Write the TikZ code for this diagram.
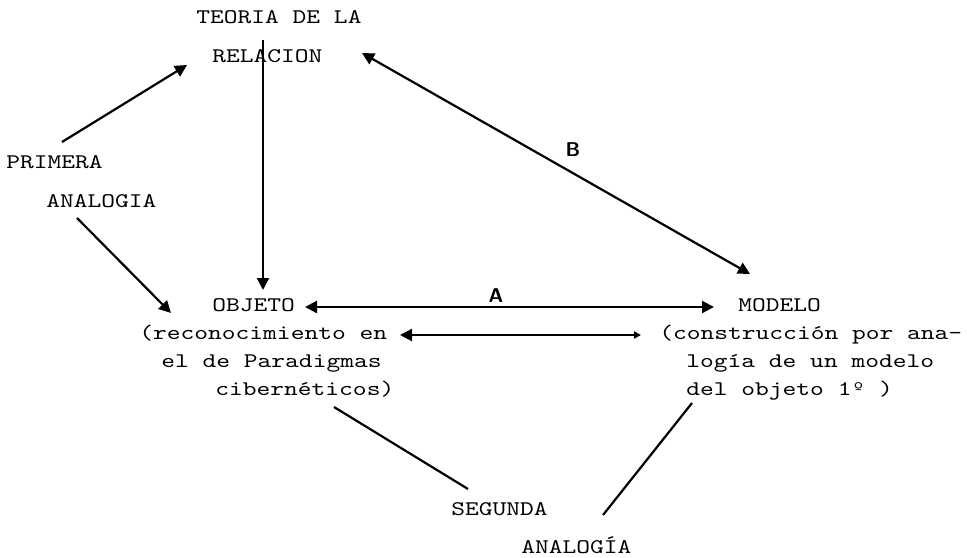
\documentclass[tikz,border=0pt]{standalone}
\usepackage{graphicx}
\usetikzlibrary{arrows.meta}
\newcommand{\tw}[1]{\scalebox{1.26}[1]{#1}}
\tikzset{
  tt/.style={anchor=base west, inner sep=0pt, font=\fontsize{10.4}{11}\selectfont\ttfamily},
  hand/.style={anchor=center, inner sep=0pt, font=\fontsize{10}{11}\selectfont\sffamily\bfseries},
  ln/.style={line width=1.1pt, black},
  arr/.style={ln, -{Triangle[length=6pt,width=6pt]}},
  darr/.style={ln, {Triangle[length=6pt,width=6pt]}-{Triangle[length=6pt,width=6pt]}},
  sarr/.style={ln, {Triangle[length=6pt,width=6pt]}-{Triangle[length=3.5pt,width=3.5pt]}}
}
\begin{document}
\begin{tikzpicture}[x=0.5pt,y=-0.5pt]
\useasboundingbox (0,0) rectangle (967,557);
% texts
\node[tt] (teoria) at (196,23) {\tw{TEORIA DE LA}};
\node[tt] (relacion) at (212,62) {\tw{RELACION}};
\node[tt] (primera) at (6,168) {\tw{PRIMERA}};
\node[tt] (analogiaA) at (46,207) {\tw{ANALOGIA}};
\node[tt] (objeto) at (212,311) {\tw{OBJETO}};
\node[tt] (objB) at (139,339) {\tw{(reconocimiento en}};
\node[tt] (objC) at (161,367) {\tw{el de Paradigmas}};
\node[tt] (objD) at (215,395) {\tw{cibernéticos)}};
\node[tt] (modelo) at (738,311) {\tw{MODELO}};
\node[tt] (modB) at (659,339) {\tw{(construcción por ana-}};
\node[tt] (modC) at (686,367) {\tw{logía de un modelo}};
\node[tt] (modD) at (686,395) {\tw{del objeto 1º )}};
\node[tt] (segunda) at (451,515) {\tw{SEGUNDA}};
\node[tt] (analogiaB) at (521,553) {\tw{ANALOGÍA}};
\node[hand] (labA) at (496,296) {A};
\node[hand] (labB) at (573,150) {B};
% connector end points
\coordinate (pA) at (62,142);
\coordinate (pB) at (187,65);
\coordinate (aA) at (77,218);
\coordinate (aB) at (171,313);
\coordinate (tA) at (263,40);
\coordinate (tB) at (263,290);
\coordinate (bA) at (362,53);
\coordinate (bB) at (750,274);
\coordinate (oA) at (305,307);
\coordinate (mA) at (714,307);
\coordinate (oB) at (400,335);
\coordinate (mB) at (641,335);
\coordinate (cA) at (334,407);
\coordinate (sA) at (468,489);
\coordinate (dA) at (692,403);
\coordinate (sB) at (603,515);
% connectors
\draw[arr] (pA) -- (pB);
\draw[arr] (aA) -- (aB);
\draw[arr] (tA) -- (tB);
\draw[darr] (bA) -- (bB);
\draw[darr] (oA) -- (mA);
\draw[sarr] (oB) -- (mB);
\draw[ln] (cA) -- (sA);
\draw[ln] (dA) -- (sB);
\end{tikzpicture}
\end{document}
